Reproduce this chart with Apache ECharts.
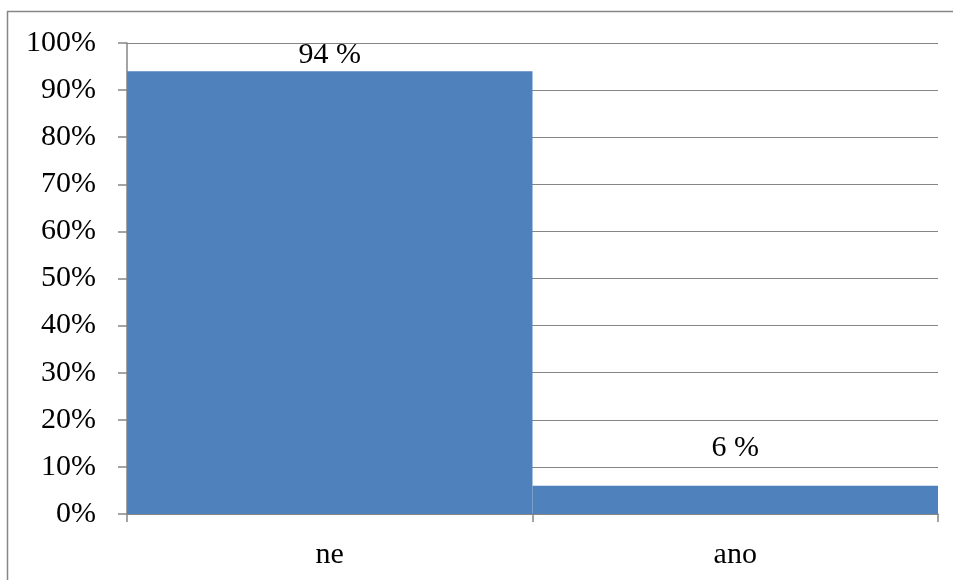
<!DOCTYPE html>
<html>
<head>
<meta charset="utf-8">
<script src="https://cdn.jsdelivr.net/npm/echarts@6/dist/echarts.min.js"></script>
<style>
  html, body { margin: 0; padding: 0; background: #fff; }
  #chart { width: 953px; height: 580px; }
</style>
</head>
<body>
<div id="chart"></div>
<script>
// Answer categories and their shares (percent)
const categories = ['ne', 'ano'];
const shares = [94, 6];
// Extra lift of each value label above its bar (px)
const labelLift = [1, 23];

const FONT = '"Liberation Serif", "Times New Roman", serif';
const GRAY = '#868686';

const chart = echarts.init(document.getElementById('chart'), null, { renderer: 'canvas' });

chart.setOption({
  animation: false,
  backgroundColor: '#fff',
  graphic: [{
    type: 'rect',
    shape: { x: 7.5, y: 11.5, width: 1000, height: 1000 },
    style: { fill: 'none', stroke: GRAY, lineWidth: 1.5 },
    silent: true
  }],
  grid: { left: 127, right: 15, top: 43, bottom: 66, containLabel: false },
  xAxis: {
    type: 'category',
    data: categories,
    axisLine: { lineStyle: { color: GRAY, width: 1.5 } },
    axisTick: { show: true, length: 8, alignWithLabel: false, lineStyle: { color: GRAY, width: 1.5 } },
    axisLabel: { color: '#000', fontFamily: FONT, fontSize: 30, margin: 26 },
    splitLine: { show: false }
  },
  yAxis: {
    type: 'value',
    min: 0,
    max: 100,
    interval: 10,
    axisLine: { show: true, lineStyle: { color: GRAY, width: 1.5 } },
    axisTick: { show: true, length: 9, lineStyle: { color: GRAY, width: 1.5 } },
    axisLabel: { color: '#000', fontFamily: FONT, fontSize: 30, margin: 31, formatter: '{value}%' },
    splitLine: { show: true, lineStyle: { color: GRAY, width: 1.2 } }
  },
  series: [{
    type: 'bar',
    barCategoryGap: '0%',
    itemStyle: { color: '#4F81BD' },
    data: shares.map((v, i) => ({
      value: v,
      label: {
        show: true,
        position: 'top',
        distance: labelLift[i],
        formatter: v + ' %',
        color: '#000',
        fontFamily: FONT,
        fontSize: 30
      }
    }))
  }]
});
</script>
</body>
</html>
